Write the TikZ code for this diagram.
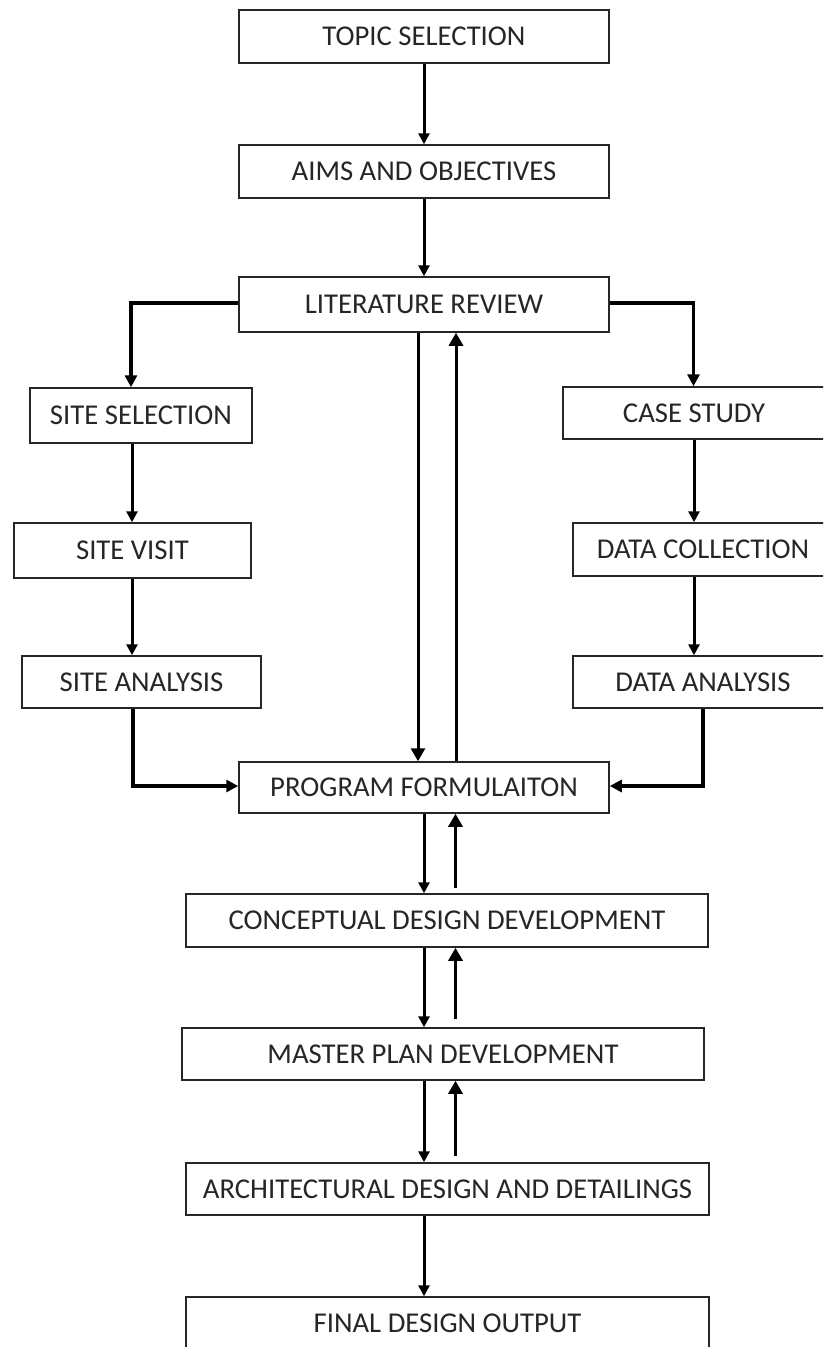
\documentclass[tikz,border=0pt]{standalone}
\usepackage{fontspec}
\setmainfont{Carlito}
\usetikzlibrary{arrows.meta}
\begin{document}
\begin{tikzpicture}[x=1pt,y=-1pt,
  box/.style={draw=black!85, line width=1.5pt, rectangle, inner sep=0pt,
    font=\fontsize{28.7}{34}\selectfont, text=black!85},
  arr/.style={line width=3pt, -{Triangle[width=11pt,length=11pt]}},
  bigarr/.style={line width=3pt, -{Triangle[width=14pt,length=13pt]}},
  elbow/.style={line width=3.4pt, line join=miter, -{Triangle[width=12pt,length=12pt]}}
]
\clip (0,0) rectangle (823,1347);
\fill[white] (0,0) rectangle (823,1347);

% main column
\node[box, minimum width=370pt, minimum height=53pt] (topic) at (424,36.5) {TOPIC SELECTION};
\node[box, minimum width=370pt, minimum height=53pt] (aims) at (424,171.5) {AIMS AND OBJECTIVES};
\node[box, minimum width=370pt, minimum height=55pt] (lit) at (424,304.5) {LITERATURE REVIEW};
\node[box, minimum width=370pt, minimum height=51pt] (prog) at (424,787.5) {PROGRAM FORMULAITON};
\node[box, minimum width=522pt, minimum height=53pt] (concept) at (447,920.5) {CONCEPTUAL DESIGN DEVELOPMENT};
\node[box, minimum width=522pt, minimum height=52pt] (master) at (443,1054) {MASTER PLAN DEVELOPMENT};
\node[box, minimum width=523pt, minimum height=52pt] (arch) at (447.5,1189) {ARCHITECTURAL DESIGN AND DETAILINGS};
\node[box, minimum width=523pt, minimum height=52pt] (final) at (447.5,1323) {FINAL DESIGN OUTPUT};

% left column
\node[box, minimum width=222pt, minimum height=55pt] (sitesel) at (141,415.5) {SITE SELECTION};
\node[box, minimum width=237pt, minimum height=55pt] (sitevis) at (132.5,550.5) {SITE VISIT};
\node[box, minimum width=239pt, minimum height=52pt] (siteana) at (141.5,682) {SITE ANALYSIS};

% right column
\node[box, minimum width=262pt, minimum height=52pt] (case) at (694,413) {CASE STUDY};
\node[box, minimum width=260pt, minimum height=53pt] (datacol) at (703,549.5) {DATA COLLECTION};
\node[box, minimum width=260pt, minimum height=52pt] (dataana) at (703,682) {DATA ANALYSIS};

% guide coordinates
\coordinate (cx) at (424,0);
\coordinate (ux) at (455.5,0);
\coordinate (ldx) at (418,0);
\coordinate (lux) at (456,0);
\coordinate (lb) at (131,303);
\coordinate (lx) at (132,0);
\coordinate (lc) at (133,786);
\coordinate (rb) at (693.5,303);
\coordinate (rx) at (694,0);
\coordinate (rc) at (703,786);

% main flow
\draw[arr] (topic.south) -- (aims.north);
\draw[arr] (aims.south) -- (lit.north);
\draw[bigarr] (lit.south -| ldx) -- (prog.north -| ldx);
\draw[bigarr] (prog.north -| lux) -- (lit.south -| lux);
\draw[arr] (prog.south -| cx) -- (concept.north -| cx);
\draw[bigarr, shorten <=5pt] (concept.north -| ux) -- (prog.south -| ux);
\draw[arr] (concept.south -| cx) -- (master.north -| cx);
\draw[bigarr, shorten <=8pt] (master.north -| ux) -- (concept.south -| ux);
\draw[arr] (master.south -| cx) -- (arch.north -| cx);
\draw[bigarr, shorten <=6pt] (arch.north -| ux) -- (master.south -| ux);
\draw[arr] (arch.south -| cx) -- (final.north -| cx);

% left branch
\draw[elbow] (lit.west |- lb) -- (lb) -- (lb |- sitesel.north);
\draw[arr] (sitesel.south -| lx) -- (sitevis.north -| lx);
\draw[arr] (sitevis.south -| lx) -- (siteana.north -| lx);
\draw[elbow] (siteana.south -| lc) -- (lc) -- (prog.west |- lc);

% right branch
\draw[elbow] (lit.east |- rb) -- (rb) -- (rb |- case.north);
\draw[arr] (case.south -| rx) -- (datacol.north -| rx);
\draw[arr] (datacol.south -| rx) -- (dataana.north -| rx);
\draw[elbow] (dataana.south -| rc) -- (rc) -- (prog.east |- rc);
\end{tikzpicture}
\end{document}
